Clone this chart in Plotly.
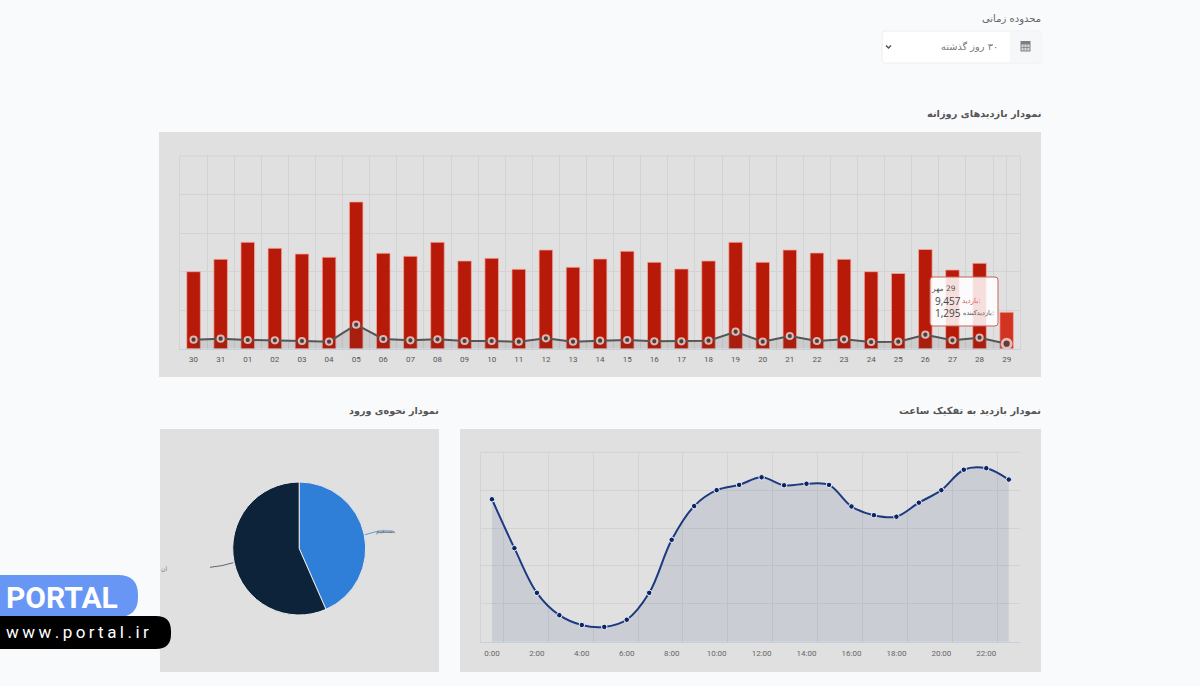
import plotly.graph_objects as go

W, H = 1200, 686

# ---- data ----
days = ["30","31","01","02","03","04","05","06","07","08","09","10","11","12","13","14",
        "15","16","17","18","19","20","21","22","23","24","25","26","27","28","29"]
visits = [19980,23200,27610,26050,24570,23720,38070,24760,23980,27610,22760,23460,20600,25610,21120,23280,
          25280,22420,20680,22760,27610,22420,25610,24830,23200,19980,19510,25740,20420,22160,9457]
visitors = [2335,2595,2258,2180,2000,1817,6228,2517,2180,2440,2000,2000,1817,2700,1817,2076,
            2258,1920,1920,2076,4410,1817,3296,2000,2440,1740,1817,3633,2180,2855,1295]
hours = ["0:00","1:00","2:00","3:00","4:00","5:00","6:00","7:00","8:00","9:00","10:00","11:00",
         "12:00","13:00","14:00","15:00","16:00","17:00","18:00","19:00","20:00","21:00","22:00","23:00"]
hourly = [376,247,129,70,44,39,58,129,269,358,400,414,434,413,417,414,357,334,330,367,400,454,458,428]
entry_labels = ["مستقیم", "ارجاعی"]
entry_values = [43.4, 56.6]

GRID = "#d3d3d3"
FONT = "DejaVu Sans, Noto Sans, sans-serif"
LATIN = "Roboto, Open Sans, sans-serif"
RLM = "\u200f"


def px(x):
    return x / W


def py(y):
    return 1 - y / H


def rect(x0, y0, x1, y1, fill, line=None, layer="below", lw=1):
    return dict(type="rect", xref="paper", yref="paper", x0=px(x0), x1=px(x1), y0=py(y0), y1=py(y1),
                fillcolor=fill, line=dict(color=line or "rgba(0,0,0,0)", width=lw if line else 0), layer=layer)


def round_path(x0, y0, x1, y1, rl, rr, fill, line=None, layer="below", lw=1):
    def P(x, y):
        return f"{px(x):.5f},{py(y):.5f}"
    # Elliptical arcs are unreliable in paper fractions, so corners use quadratic curves
    d = (f"M{P(x0 + rl, y0)} L{P(x1 - rr, y0)} Q{P(x1, y0)} {P(x1, y0 + rr)} "
         f"L{P(x1, y1 - rr)} Q{P(x1, y1)} {P(x1 - rr, y1)} L{P(x0 + rl, y1)} "
         f"Q{P(x0, y1)} {P(x0, y1 - rl)} L{P(x0, y0 + rl)} Q{P(x0, y0)} {P(x0 + rl, y0)} Z")
    return dict(type="path", xref="paper", yref="paper", path=d, fillcolor=fill,
                line=dict(color=line or "rgba(0,0,0,0)", width=lw if line else 0), layer=layer)


def seg(points, color, width=1, layer="above"):
    d = "M" + " L".join(f"{px(x):.5f},{py(y):.5f}" for x, y in points)
    return dict(type="path", xref="paper", yref="paper", path=d, line=dict(color=color, width=width), layer=layer)


def label(x, y, text, size=12, color="#555", anchor="right", font=FONT, bold=False):
    t = f"<b>{text}</b>" if bold else text
    return dict(xref="paper", yref="paper", x=px(x), y=py(y), text=t, showarrow=False, xanchor=anchor,
                yanchor="middle", font=dict(size=size, color=color, family=font), borderpad=0, borderwidth=0)


idx = list(range(len(days)))
hidx = list(range(len(hours)))

fig = go.Figure()
fig.add_trace(go.Bar(
    x=idx, y=visits, xaxis="x", yaxis="y", width=0.5,
    marker=dict(color=["#b71a08"] * (len(days) - 1) + ["#d23322"],
                line=dict(color="rgba(245,170,160,0.75)", width=1)),
    hoverinfo="skip", showlegend=False))
fig.add_trace(go.Scatter(
    x=idx, y=visitors, xaxis="x", yaxis="y", mode="lines+markers",
    line=dict(color="#555555", width=2), fill="tozeroy", fillcolor="rgba(70,70,70,0.13)",
    marker=dict(color="#3c3c3c", size=[6.2] * (len(days) - 1) + [9],
                line=dict(color="#f4f4f4", width=[2] * (len(days) - 1) + [2.8])),
    hoverinfo="skip", showlegend=False))
fig.add_trace(go.Scatter(
    x=hidx, y=hourly, xaxis="x2", yaxis="y2", mode="lines+markers",
    line=dict(color="#1c3a80", width=2, shape="spline", smoothing=1),
    fill="tozeroy", fillcolor="rgba(15,40,105,0.10)",
    marker=dict(color="#0a2468", size=5.5, line=dict(color="#eef0f4", width=1)),
    hoverinfo="skip", showlegend=False))
fig.add_trace(go.Pie(
    labels=entry_labels, values=entry_values, sort=False, direction="clockwise", rotation=0,
    domain=dict(x=[px(232.7), px(365.7)], y=[py(615), py(482)]),
    marker=dict(colors=["#2f7ed8", "#0d233a"], line=dict(color="#e8e8e8", width=1)),
    textinfo="none", hoverinfo="skip", showlegend=False))

shapes = [
    rect(159, 132, 1041, 377, "#e0e0e0"),
    rect(160, 429, 439, 672, "#e0e0e0"),
    rect(460, 429, 1041, 672, "#e0e0e0"),
    seg([(180, 156), (1020.2, 156)], GRID, 1, layer="below"),
    seg([(480.7, 452.3), (1020, 452.3)], GRID, 1, layer="below"),
    round_path(882, 31, 1041, 63, 3, 3, "#ffffff", "#eceef2"),
    rect(1010, 32, 1040.5, 62, "#f6f7f9"),
    # calendar icon
    rect(1020.5, 41, 1030.5, 51.5, "#7b7f85", layer="above"),
    rect(1021.5, 44.5, 1029.5, 50.5, "#d9dbde", layer="above"),
    seg([(1024, 44.5), (1024, 50.5)], "#7b7f85", 0.8),
    seg([(1027, 44.5), (1027, 50.5)], "#7b7f85", 0.8),
    seg([(1021.5, 47.5), (1029.5, 47.5)], "#7b7f85", 0.8),
    # select chevron
    seg([(886, 45.5), (888.5, 48), (891, 45.5)], "#555555", 1.5),
    # pie leader lines
    seg([(365, 534.7), (378.3, 531), (393, 531)], "#5f9be0", 1),
    seg([(233.3, 562.7), (222, 565.6), (210, 567.3)], "#5b6774", 1),
    # watermark
    round_path(-20, 575, 138, 617, 0, 20, "#6796f5", layer="above"),
    round_path(-20, 616, 171, 649, 0, 15, "#000000", layer="above"),
    # tooltip
    round_path(930, 277, 998, 326, 3, 3, "rgba(255,255,255,0.86)", "#c9605a", layer="above", lw=1),
]

annotations = [
    label(1041, 19, "محدوده زمانی", 10, "#666"),
    label(998, 46, RLM + "۳۰ روز گذشته", 9.8, "#777"),
    label(1041, 114, "نمودار بازدیدهای روزانه", 9.8, "#555", bold=True),
    label(1041, 411, "نمودار بازدید به تفکیک ساعت", 9.8, "#555", bold=True),
    label(439, 411, "نمودار نحوه‌ی ورود", 9.6, "#555", bold=True),
    label(395, 530.5, "مستقیم", 6, "#666"),
    label(161, 568, "ان", 6, "#777", anchor="left"),
    label(6, 597, "PORTAL", 30, "#ffffff", anchor="left", font=LATIN, bold=True),
    label(6, 632, "\u2009".join("www.portal.ir"), 17, "#ffffff", anchor="left", font=LATIN),
    label(956, 288, RLM + "29 مهر", 7.5, "#555"),
    label(935, 300.5, "9,457", 10, "#444", anchor="left", font="Open Sans, sans-serif"),
    label(981, 300.5, "بازدید:", 7, "#d9534f"),
    label(935, 313, "1,295", 10, "#444", anchor="left", font="Open Sans, sans-serif"),
    label(994, 313, "بازدیدکننده:", 6.5, "#555"),
]

fig.update_layout(
    width=W, height=H, margin=dict(l=0, r=0, t=0, b=0), autosize=False,
    paper_bgcolor="#f9fafc", plot_bgcolor="rgba(0,0,0,0)", showlegend=False,
    bargap=0.5, hovermode=False, shapes=shapes, annotations=annotations,
    xaxis=dict(domain=[px(180), px(1020.2)], range=[-0.5, len(days) - 0.5], tickmode="array", tickvals=idx,
               ticktext=days, showgrid=False, zeroline=False, showline=True, linecolor="#c3d0e0", linewidth=1,
               ticks="outside", ticklen=3, tickcolor="rgba(0,0,0,0)",
               tickfont=dict(size=8, color="#555", family=LATIN), anchor="y",
               minor=dict(tickmode="array", tickvals=[i - 0.5 for i in idx] + [len(days) - 1],
                          showgrid=True, gridcolor=GRID, gridwidth=1, ticks="")),
    yaxis=dict(domain=[py(348.7), py(156)], range=[0, 50000], dtick=10000, showticklabels=False,
               showgrid=True, gridcolor=GRID, gridwidth=1, zeroline=False, anchor="x",
               showline=True, mirror=True, linecolor=GRID, linewidth=1),
    xaxis2=dict(domain=[px(480.7), px(1020)], range=[-0.5, len(hours) - 0.5], tickmode="array", tickvals=hidx[::2],
                ticktext=hours[::2], showgrid=False, zeroline=False, showline=True, linecolor="#c3d0e0", linewidth=1,
                ticks="outside", ticklen=4, tickcolor="rgba(0,0,0,0)",
                tickfont=dict(size=8, color="#666", family=LATIN), anchor="y2",
                minor=dict(tickmode="array", tickvals=[i + 0.5 for i in hidx[::2]],
                           showgrid=True, gridcolor=GRID, gridwidth=1, ticks="")),
    yaxis2=dict(domain=[py(641.7), py(452.3)], range=[0, 500], dtick=100, showticklabels=False,
                showgrid=True, gridcolor=GRID, gridwidth=1, zeroline=False, anchor="x2",
                showline=True, mirror=False, linecolor=GRID, linewidth=1),
)

fig.write_html("out.html", config=dict(displayModeBar=False),
               post_script="document.body.style.margin='0';document.documentElement.style.overflow='hidden';")
